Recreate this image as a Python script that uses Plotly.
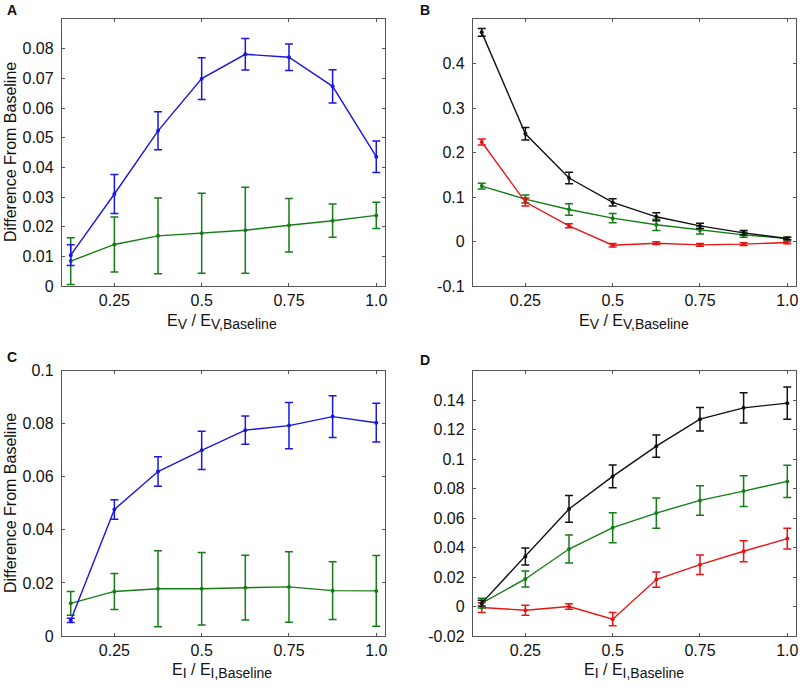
import plotly.graph_objects as go

x_vals = [0.125, 0.25, 0.375, 0.5, 0.625, 0.75, 0.875, 1.0]
x_ticks = [0.25, 0.5, 0.75, 1.0]
x_ticklabels = ["0.25", "0.5", "0.75", "1.0"]

# Panel A
a_blue = [0.0104, 0.031, 0.0523, 0.0699, 0.0781, 0.0771, 0.0673, 0.0436]
a_blue_err = [0.0035, 0.0066, 0.0064, 0.007, 0.0053, 0.0045, 0.0056, 0.0053]
a_green = [0.0084, 0.014, 0.0169, 0.0178, 0.0188, 0.0205, 0.022, 0.0238]
a_green_err = [0.0079, 0.0093, 0.0128, 0.0135, 0.0145, 0.009, 0.0056, 0.0044]
a_yticks = [0, 0.01, 0.02, 0.03, 0.04, 0.05, 0.06, 0.07, 0.08]
a_yticklabels = ["0", "0.01", "0.02", "0.03", "0.04", "0.05", "0.06", "0.07", "0.08"]

# Panel B
b_black = [0.47, 0.242, 0.1426, 0.0878, 0.0555, 0.035, 0.0195, 0.0068]
b_black_err = [0.0086, 0.014, 0.013, 0.008, 0.009, 0.006, 0.005, 0.003]
b_red = [0.2236, 0.0886, 0.0353, -0.0083, -0.0038, -0.0075, -0.006, -0.0023]
b_red_err = [0.007, 0.009, 0.0045, 0.004, 0.003, 0.003, 0.003, 0.0025]
b_green = [0.1246, 0.0953, 0.072, 0.0525, 0.0375, 0.0255, 0.015, 0.0068]
b_green_err = [0.0065, 0.009, 0.013, 0.0105, 0.0125, 0.0087, 0.0056, 0.003]
b_yticks = [-0.1, 0, 0.1, 0.2, 0.3, 0.4]
b_yticklabels = ["-0.1", "0", "0.1", "0.2", "0.3", "0.4"]

# Panel C
c_blue = [0.0059, 0.0477, 0.062, 0.07, 0.0776, 0.0793, 0.0827, 0.0804]
c_blue_err = [0.0008, 0.0037, 0.0056, 0.0072, 0.0053, 0.0087, 0.0079, 0.0073]
c_green = [0.0123, 0.0168, 0.0178, 0.0178, 0.0182, 0.0185, 0.0171, 0.017]
c_green_err = [0.0045, 0.0068, 0.0143, 0.0137, 0.0122, 0.0133, 0.0109, 0.0133]
c_yticks = [0, 0.02, 0.04, 0.06, 0.08, 0.1]
c_yticklabels = ["0", "0.02", "0.04", "0.06", "0.08", "0.1"]

# Panel D
d_black = [0.0023, 0.0339, 0.0662, 0.0883, 0.1088, 0.1271, 0.1348, 0.138]
d_black_err = [0.002, 0.0058, 0.0091, 0.0078, 0.0076, 0.008, 0.0103, 0.011]
d_green = [0.0023, 0.0187, 0.039, 0.0535, 0.0634, 0.072, 0.0783, 0.0849]
d_green_err = [0.0033, 0.0054, 0.0095, 0.0102, 0.0103, 0.01, 0.0105, 0.011]
d_red = [-0.0007, -0.0025, 0.0, -0.0086, 0.0183, 0.0284, 0.0375, 0.0461]
d_red_err = [0.0033, 0.0034, 0.0018, 0.0045, 0.0052, 0.0066, 0.0072, 0.007]
d_yticks = [-0.02, 0, 0.02, 0.04, 0.06, 0.08, 0.1, 0.12, 0.14]
d_yticklabels = ["-0.02", "0", "0.02", "0.04", "0.06", "0.08", "0.1", "0.12", "0.14"]

BLUE = "#1818e0"
GREEN = "#157d15"
RED = "#e81515"
BLACK = "#111111"

FONT = "Liberation Sans, Arial, sans-serif"
W, H = 800, 690

fig = go.Figure()

def add(xa, ya, y, err, color):
    fig.add_trace(go.Scatter(
        x=x_vals, y=y, xaxis=xa, yaxis=ya, mode="lines+markers",
        line=dict(color=color, width=1.4),
        marker=dict(color=color, size=4),
        error_y=dict(type="data", array=err, visible=True, color=color,
                     thickness=1.5, width=4),
        showlegend=False, hoverinfo="skip"))

add("x", "y", a_green, a_green_err, GREEN)
add("x", "y", a_blue, a_blue_err, BLUE)
add("x2", "y2", b_green, b_green_err, GREEN)
add("x2", "y2", b_red, b_red_err, RED)
add("x2", "y2", b_black, b_black_err, BLACK)
add("x3", "y3", c_green, c_green_err, GREEN)
add("x3", "y3", c_blue, c_blue_err, BLUE)
add("x4", "y4", d_red, d_red_err, RED)
add("x4", "y4", d_green, d_green_err, GREEN)
add("x4", "y4", d_black, d_black_err, BLACK)

axis_common = dict(showline=True, linecolor="#555555", linewidth=1.3, mirror="ticks",
                   ticks="inside", ticklen=3, tickcolor="#555555", showgrid=False,
                   zeroline=False, automargin=False,
                   tickfont=dict(family=FONT, size=16, color="#111"))

xl = [62/W, 385/W]
xr = [473/W, 796/W]
yt = [1 - 286/H, 1 - 19/H]
yb = [1 - 636/H, 1 - 370.7/H]

def xaxis(dom, anchor):
    return dict(domain=dom, anchor=anchor, range=[0.1, 1.025], tickvals=x_ticks,
                ticktext=x_ticklabels, **axis_common)

def yaxis(dom, anchor, rng, tv, tt):
    return dict(domain=dom, anchor=anchor, range=rng, tickvals=tv, ticktext=tt,
                ticklabelstandoff=4, **axis_common)

fig.update_layout(
    width=W, height=H,
    margin=dict(l=0, r=0, t=0, b=0, autoexpand=False),
    paper_bgcolor="white", plot_bgcolor="white",
    xaxis=xaxis(xl, "y"),
    yaxis=yaxis(yt, "x", [0, 0.09], a_yticks, a_yticklabels),
    xaxis2=xaxis(xr, "y2"),
    yaxis2=yaxis(yt, "x2", [-0.1, 0.5], b_yticks, b_yticklabels),
    xaxis3=xaxis(xl, "y3"),
    yaxis3=yaxis(yb, "x3", [0, 0.1], c_yticks, c_yticklabels),
    xaxis4=xaxis(xr, "y4"),
    yaxis4=yaxis(yb, "x4", [-0.02, 0.16], d_yticks, d_yticklabels),
)

def ann(text, px, py, size, angle=0, bold=False):
    fig.add_annotation(text=("<b>%s</b>" % text) if bold else text,
                       x=px/W, y=1 - py/H, xref="paper", yref="paper",
                       showarrow=False, xanchor="center", yanchor="middle",
                       textangle=angle,
                       font=dict(family=FONT, size=size, color="#111"))

# panel letters
ann("A", 12, 10, 14, bold=True)
ann("B", 425, 10, 14, bold=True)
ann("C", 12, 357, 14, bold=True)
ann("D", 425, 360, 14, bold=True)

# axis titles
def sub(s):
    return "<sub><span style='font-size:14px'>%s</span></sub>" % s

xt_v = "E" + sub("V") + " / E" + sub("V,Baseline")
xt_i = "E" + sub("I") + " / E" + sub("I,Baseline")
ann(xt_v, 222, 322, 16)
ann(xt_v, 634, 322, 16)
ann(xt_i, 222, 671, 16)
ann(xt_i, 634, 671, 16)
ann("Difference From Baseline", 10, 152, 16, angle=-90)
ann("Difference From Baseline", 10, 503, 16, angle=-90)

fig.write_html("out.html", config={"displayModeBar": False},
               post_script="document.body.style.margin='0';document.body.style.overflow='hidden';")
